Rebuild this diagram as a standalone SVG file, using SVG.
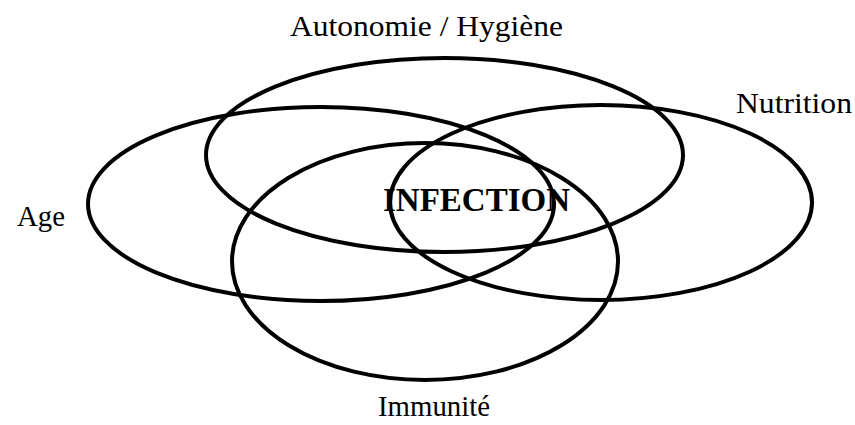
<svg xmlns="http://www.w3.org/2000/svg" width="855" height="425" viewBox="0 0 855 425">
  <style>
    .ring { fill: none; stroke: #000; stroke-width: 4; }
    .lbl { font-family: "Liberation Serif", "Times New Roman", serif; font-size: 30px; fill: #000; }
    .center { font-family: "Liberation Serif", "Times New Roman", serif; font-size: 33px; font-weight: bold; fill: #000; }
  </style>
  <rect width="855" height="425" fill="#fff"/>
  <g id="node-autonomie">
    <ellipse class="ring" cx="444.5" cy="155" rx="238.5" ry="97"/>
    <text class="lbl" x="290" y="36" textLength="273" lengthAdjust="spacingAndGlyphs">Autonomie / Hygiène</text>
  </g>
  <g id="node-age">
    <ellipse class="ring" cx="321" cy="204" rx="233" ry="97"/>
    <text class="lbl" x="17" y="226" textLength="48" lengthAdjust="spacingAndGlyphs">Age</text>
  </g>
  <g id="node-nutrition">
    <ellipse class="ring" cx="601" cy="202.5" rx="211" ry="97.5"/>
    <text class="lbl" x="736" y="113" textLength="116" lengthAdjust="spacingAndGlyphs">Nutrition</text>
  </g>
  <g id="node-immunite">
    <ellipse class="ring" cx="425" cy="261.5" rx="193" ry="118.5"/>
    <text class="lbl" x="378" y="416" textLength="112" lengthAdjust="spacingAndGlyphs">Immunité</text>
  </g>
  <g id="connectors"></g>
  <g id="node-infection">
    <text class="center" x="383" y="211" textLength="187" lengthAdjust="spacingAndGlyphs">INFECTION</text>
  </g>
</svg>
